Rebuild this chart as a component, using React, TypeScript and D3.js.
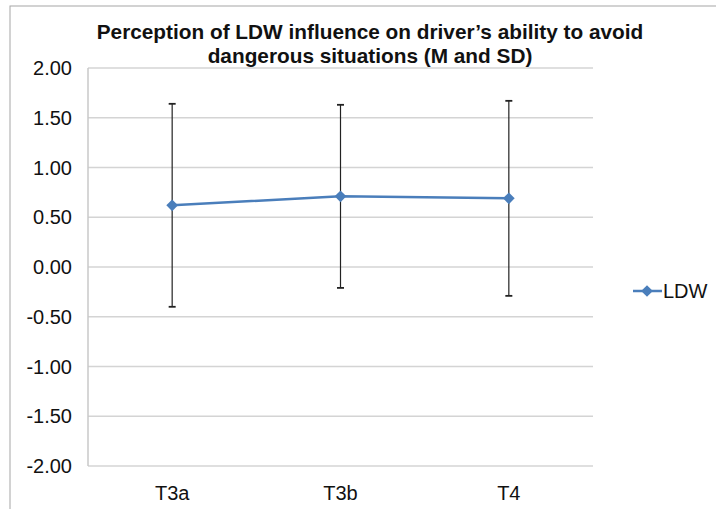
import * as d3 from "d3";
import React from "react";

const categories = ["T3a", "T3b", "T4"];
const means = [0.62, 0.71, 0.69];
const sds = [1.02, 0.92, 0.98];
const yTicks = [2, 1.5, 1, 0.5, 0, -0.5, -1, -1.5, -2];
const seriesName = "LDW";

const W = 716;
const H = 509;
const margin = { left: 88, right: 123, top: 68, bottom: 43 };
const font = "'Liberation Sans', Arial, sans-serif";
const blue = "#4a7ebb";
const fs = 20;

const App = () => {
  const x = d3
    .scaleBand()
    .domain(categories)
    .range([margin.left, W - margin.right]);
  const y = d3
    .scaleLinear()
    .domain([-2, 2])
    .range([H - margin.bottom, margin.top]);

  const cx = (c) => x(c) + x.bandwidth() / 2;
  const line = d3
    .line()
    .x((d, i) => cx(categories[i]))
    .y((d) => y(d));
  // square turned 45deg -> diamond marker like Excel's
  const diamond = d3.symbol().type(d3.symbolSquare).size(68)();

  return (
    <svg
      width={W}
      height={H}
      style={{ position: "absolute", left: 0, top: 0, background: "#fff" }}
      fontFamily={font}
    >
      <rect x={10} y={6} width={W} height={H} fill="#fff" stroke="#a6a6a6" strokeWidth={1} />
      <text x={370} y={39} textAnchor="middle" fontSize={20.8} fontWeight="bold" fill="#111">
        Perception of LDW influence on driver’s ability to avoid
      </text>
      <text x={370} y={63} textAnchor="middle" fontSize={20.8} fontWeight="bold" fill="#111">
        dangerous situations (M and SD)
      </text>

      {yTicks.map((t) => (
        <g key={t}>
          <line
            x1={margin.left}
            x2={W - margin.right}
            y1={y(t)}
            y2={y(t)}
            stroke="#d4d4d4"
            strokeWidth={1.5}
          />
          <text x={72} y={y(t) + 7} textAnchor="end" fontSize={fs} fill="#111">
            {t.toFixed(2)}
          </text>
        </g>
      ))}
      <line
        x1={margin.left}
        x2={margin.left}
        y1={margin.top}
        y2={H - margin.bottom}
        stroke="#c8c8c8"
        strokeWidth={1.5}
      />

      {categories.map((c) => (
        <text key={c} x={cx(c)} y={500} textAnchor="middle" fontSize={fs} fill="#111">
          {c}
        </text>
      ))}

      {categories.map((c, i) => {
        const top = y(means[i] + sds[i]);
        const bot = y(means[i] - sds[i]);
        return (
          <g key={c} stroke="#222" strokeWidth={1.2}>
            <line x1={cx(c)} x2={cx(c)} y1={top} y2={bot} />
            <line x1={cx(c) - 3.5} x2={cx(c) + 3.5} y1={top} y2={top} strokeWidth={1.8} />
            <line x1={cx(c) - 3.5} x2={cx(c) + 3.5} y1={bot} y2={bot} strokeWidth={1.8} />
          </g>
        );
      })}

      <path d={line(means)} fill="none" stroke={blue} strokeWidth={2.5} />
      {means.map((m, i) => (
        <path
          key={i}
          d={diamond}
          transform={`translate(${cx(categories[i])},${y(m)}) rotate(45)`}
          fill={blue}
        />
      ))}

      <g>
        <line x1={633} x2={662} y1={291} y2={291} stroke={blue} strokeWidth={2.5} />
        <path d={diamond} transform="translate(647,291) rotate(45)" fill={blue} />
        <text x={663} y={298} fontSize={fs} fill="#111">
          {seriesName}
        </text>
      </g>
    </svg>
  );
};

export default App;
